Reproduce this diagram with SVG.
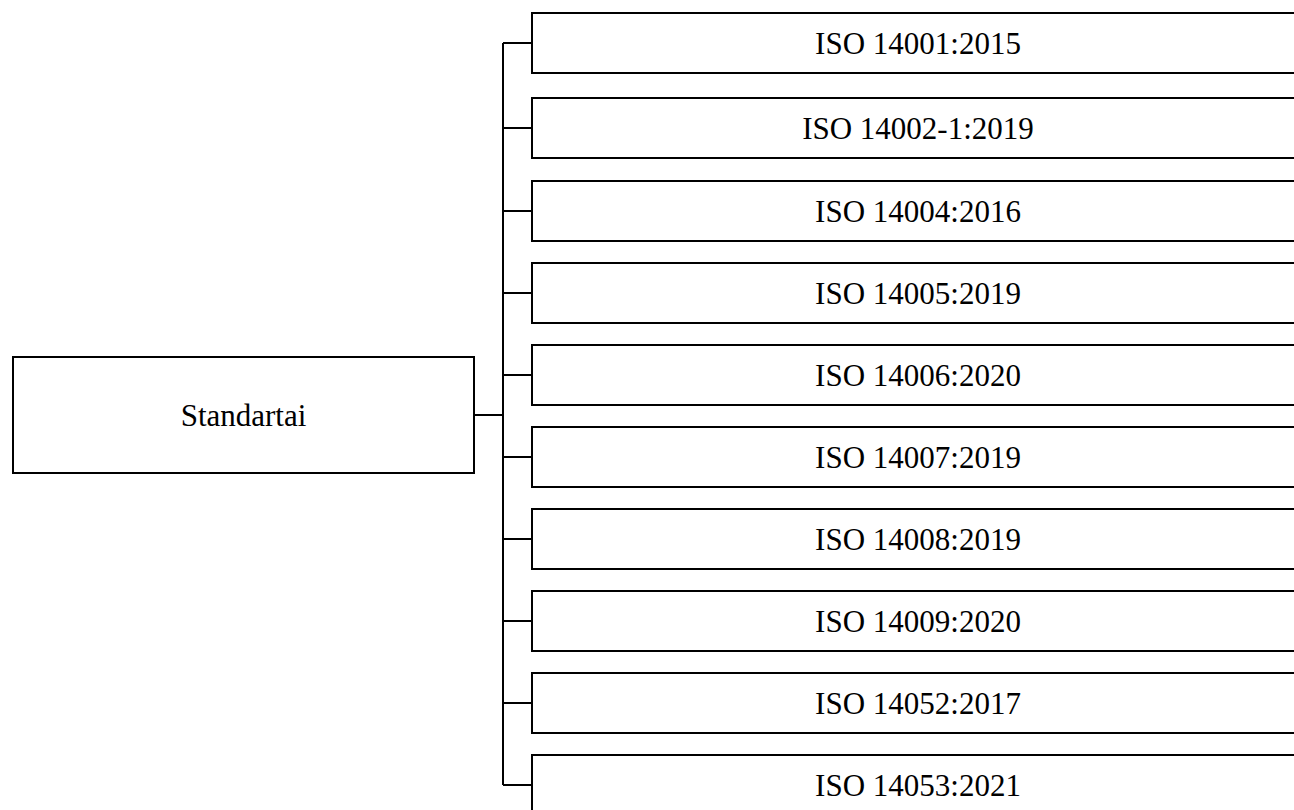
<svg xmlns="http://www.w3.org/2000/svg" width="1294" height="810" viewBox="0 0 1294 810">
<style>
.box{fill:#fff;stroke:#000;stroke-width:2}
.ln{fill:none;stroke:#000;stroke-width:2}
.t{font-family:"Liberation Serif","Times New Roman",serif;font-size:31px;fill:#000;text-anchor:middle}
</style>
<rect width="1294" height="810" fill="#fff"/>
<g id="connectors">
<path class="ln" d="M474 415H503M503 43V785"/>
<path class="ln" d="M503 43H532M503 128H532M503 211H532M503 293H532M503 375H532M503 457H532M503 539H532M503 621H532M503 703H532M503 785H532"/>
</g>
<g id="root"><rect class="box" x="13" y="357" width="461" height="116"/><text class="t" x="243.5" y="425.5">Standartai</text></g>
<g id="n1"><rect class="box" x="532" y="13" width="773" height="60"/><text class="t" x="918" y="53.5">ISO 14001:2015</text></g>
<g id="n2"><rect class="box" x="532" y="98" width="773" height="60"/><text class="t" x="918" y="138.5">ISO 14002-1:2019</text></g>
<g id="n3"><rect class="box" x="532" y="181" width="773" height="60"/><text class="t" x="918" y="221.5">ISO 14004:2016</text></g>
<g id="n4"><rect class="box" x="532" y="263" width="773" height="60"/><text class="t" x="918" y="303.5">ISO 14005:2019</text></g>
<g id="n5"><rect class="box" x="532" y="345" width="773" height="60"/><text class="t" x="918" y="385.5">ISO 14006:2020</text></g>
<g id="n6"><rect class="box" x="532" y="427" width="773" height="60"/><text class="t" x="918" y="467.5">ISO 14007:2019</text></g>
<g id="n7"><rect class="box" x="532" y="509" width="773" height="60"/><text class="t" x="918" y="549.5">ISO 14008:2019</text></g>
<g id="n8"><rect class="box" x="532" y="591" width="773" height="60"/><text class="t" x="918" y="631.5">ISO 14009:2020</text></g>
<g id="n9"><rect class="box" x="532" y="673" width="773" height="60"/><text class="t" x="918" y="713.5">ISO 14052:2017</text></g>
<g id="n10"><rect class="box" x="532" y="755" width="773" height="60"/><text class="t" x="918" y="795.5">ISO 14053:2021</text></g>
</svg>
